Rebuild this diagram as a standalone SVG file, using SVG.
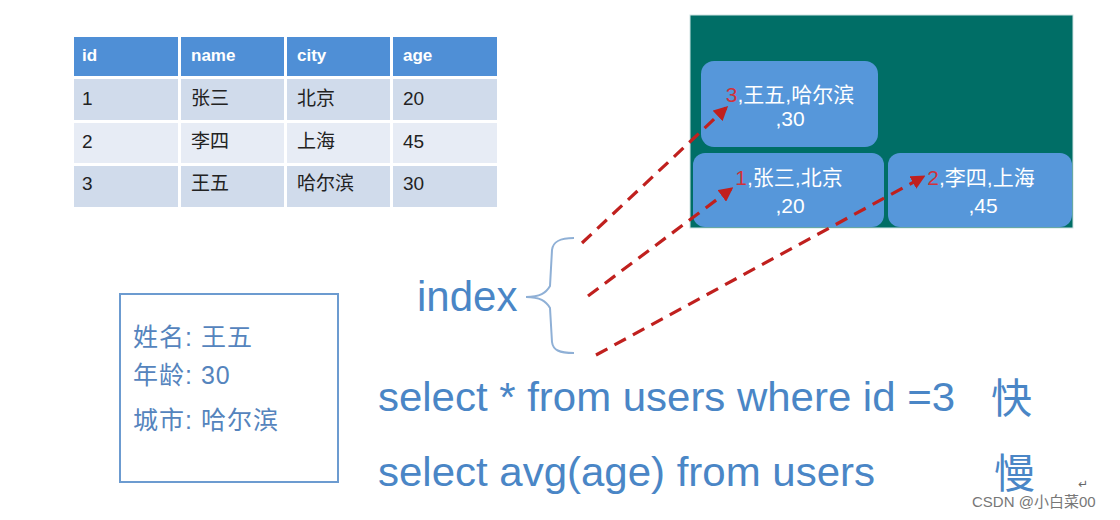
<svg xmlns="http://www.w3.org/2000/svg" width="1120" height="520" viewBox="0 0 1120 520">
<defs>
<style>
.hd{fill:#4f8fd6}
.r1{fill:#d0dbeb}
.r2{fill:#e7ecf5}
.ht{font-family:"Liberation Sans","Noto Sans CJK SC",sans-serif;font-size:17px;font-weight:bold;fill:#ffffff}
.tt{font-family:"Liberation Sans","Noto Sans CJK SC",sans-serif;font-size:19px;fill:#222222}
.nd{fill:#5697da}
.nt{font-family:"Liberation Sans","Noto Sans CJK SC",sans-serif;font-size:21px;fill:#ffffff}
.red{fill:#d0323a}
.bt{font-family:"Liberation Sans","Noto Sans CJK SC",sans-serif;fill:#4a86c6}
.it{font-family:"Liberation Sans","Noto Sans CJK SC",sans-serif;font-size:25px;fill:#5584bd;letter-spacing:1px}
.dash{fill:none;stroke:#c0201e;stroke-width:3.2;stroke-dasharray:13 8;marker-end:url(#ah)}
</style>
<marker id="ah" viewBox="0 0 10 10" refX="8" refY="5" markerWidth="4.5" markerHeight="4.5" orient="auto" markerUnits="strokeWidth">
<path d="M0,0 L10,5 L0,10 z" fill="#c0201e"/>
</marker>
</defs>
<rect width="1120" height="520" fill="#ffffff"/>

<g id="table">
<rect class="hd" x="74" y="37" width="104" height="39"/>
<rect class="hd" x="181" y="37" width="103" height="39"/>
<rect class="hd" x="287" y="37" width="103" height="39"/>
<rect class="hd" x="393" y="37" width="104" height="39"/>
<rect class="r1" x="74" y="79" width="104" height="41"/>
<rect class="r1" x="181" y="79" width="103" height="41"/>
<rect class="r1" x="287" y="79" width="103" height="41"/>
<rect class="r1" x="393" y="79" width="104" height="41"/>
<rect class="r2" x="74" y="123" width="104" height="40"/>
<rect class="r2" x="181" y="123" width="103" height="40"/>
<rect class="r2" x="287" y="123" width="103" height="40"/>
<rect class="r2" x="393" y="123" width="104" height="40"/>
<rect class="r1" x="74" y="166" width="104" height="41"/>
<rect class="r1" x="181" y="166" width="103" height="41"/>
<rect class="r1" x="287" y="166" width="103" height="41"/>
<rect class="r1" x="393" y="166" width="104" height="41"/>
<text class="ht" x="82" y="61">id</text>
<text class="ht" x="191" y="61">name</text>
<text class="ht" x="297" y="61">city</text>
<text class="ht" x="403" y="61">age</text>
<text class="tt" x="82" y="105">1</text>
<text class="tt" x="191" y="105">张三</text>
<text class="tt" x="297" y="105">北京</text>
<text class="tt" x="403" y="105">20</text>
<text class="tt" x="82" y="148">2</text>
<text class="tt" x="191" y="148">李四</text>
<text class="tt" x="297" y="148">上海</text>
<text class="tt" x="403" y="148">45</text>
<text class="tt" x="82" y="190">3</text>
<text class="tt" x="191" y="190">王五</text>
<text class="tt" x="297" y="190">哈尔滨</text>
<text class="tt" x="403" y="190">30</text>
</g>

<g id="btree">
<rect x="690" y="15" width="383" height="213" fill="#006e66" stroke="#cfe3e3" stroke-width="1"/>
</g>
<g id="node3">
<rect class="nd" x="701" y="61" width="177" height="86" rx="13"/>
<text class="nt" x="790" y="102" text-anchor="middle"><tspan class="red">3</tspan>,王五,哈尔滨</text>
<text class="nt" x="790" y="126" text-anchor="middle">,30</text>
</g>
<g id="node1">
<rect class="nd" x="693" y="153" width="191" height="74" rx="12"/>
<text class="nt" x="789" y="185" text-anchor="middle"><tspan class="red">1</tspan>,张三,北京</text>
<text class="nt" x="790" y="213" text-anchor="middle">,20</text>
</g>
<g id="node2">
<rect class="nd" x="888" y="153" width="184" height="74" rx="12"/>
<text class="nt" x="981" y="185" text-anchor="middle"><tspan class="red">2</tspan>,李四,上海</text>
<text class="nt" x="983" y="213" text-anchor="middle">,45</text>
</g>

<g id="index">
<text class="bt" x="417" y="311" font-size="42">index</text>
<path d="M526,297 C540,297 546,293 550,286 L552,250 C553,242 559,238 574,238 M526,297 C540,297 546,301 550,308 L552,342 C553,350 559,353 574,353" fill="none" stroke="#8fb0d6" stroke-width="2"/>
</g>

<g id="connectors">
<path class="dash" d="M582,243 L726,108"/>
<path class="dash" d="M588,296 L731,189"/>
<path class="dash" d="M596,355 L923,177"/>
</g>

<g id="record">
<rect x="120" y="294" width="218" height="188" fill="#ffffff" stroke="#6c9bd0" stroke-width="2"/>
<text class="it" x="133" y="346">姓名: 王五</text>
<text class="it" x="133" y="384">年龄: 30</text>
<text class="it" x="133" y="429">城市: 哈尔滨</text>
</g>

<g id="queries">
<text class="bt" x="378" y="411" font-size="41" textLength="577" lengthAdjust="spacingAndGlyphs">select * from users where id =3</text>
<text class="bt" x="991" y="413" font-size="41">快</text>
<text class="bt" x="378" y="486" font-size="41" textLength="497" lengthAdjust="spacingAndGlyphs">select avg(age) from users</text>
<text class="bt" x="994" y="488" font-size="41">慢</text>
</g>

<g id="watermark">
<text x="1078" y="488" font-family="DejaVu Sans,sans-serif" font-size="12" fill="#666666">↵</text>
<text x="972" y="507" font-family="Liberation Sans,'Noto Sans CJK SC',sans-serif" font-size="15" fill="#777777">CSDN @小白菜00</text>
</g>
</svg>
